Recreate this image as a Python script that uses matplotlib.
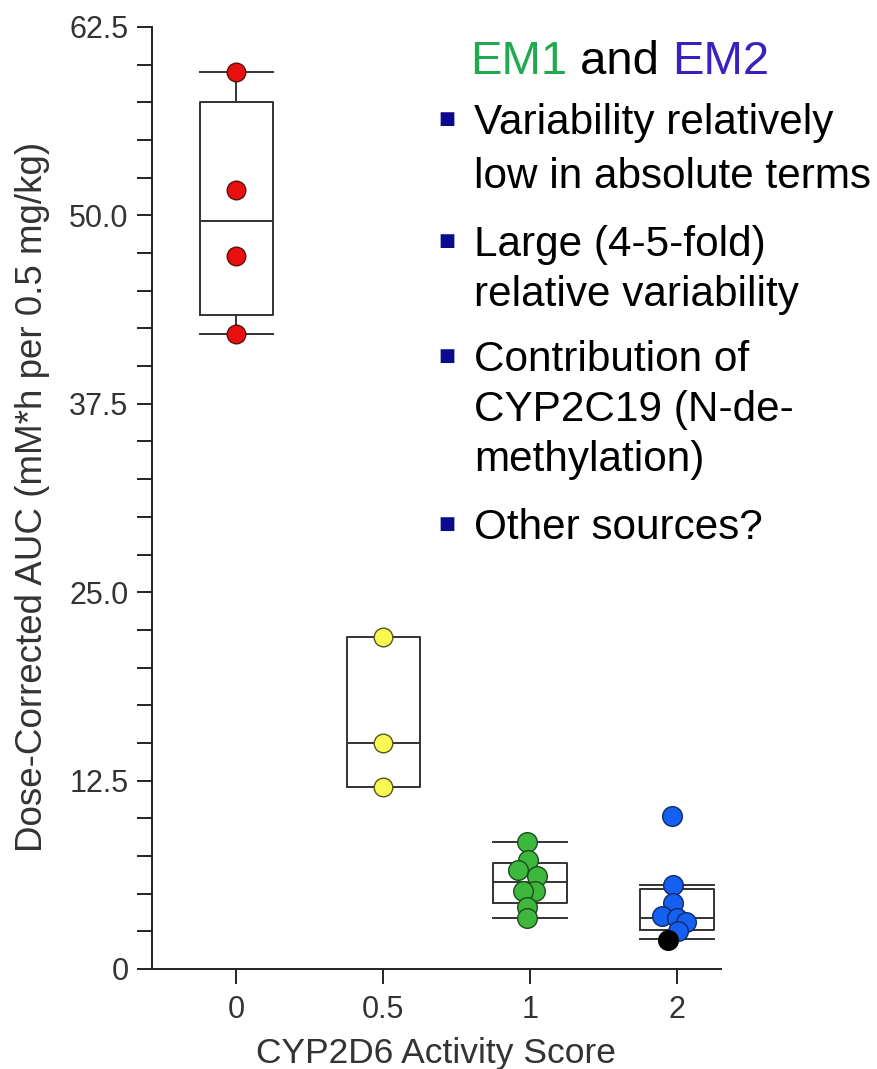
import matplotlib
matplotlib.use("Agg")
import matplotlib.pyplot as plt
from matplotlib.ticker import MultipleLocator

plt.rcParams['font.family'] = ['Liberation Sans', 'DejaVu Sans']

# ---------------- data ----------------
categories = ["0", "0.5", "1", "2"]
y_ticks = [0, 12.5, 25.0, 37.5, 50.0, 62.5]
y_ticklabels = ["0", "12.5", "25.0", "37.5", "50.0", "62.5"]

pm_values = [59.5, 51.7, 47.3, 42.1]                 # score 0 (red)
im_values = [22.0, 15.0, 12.1]                       # score 0.5 (yellow)
em1_values = [8.4, 7.2, 6.6, 6.2, 5.2, 5.2, 4.1, 3.4]  # score 1 (green)
em1_offsets = [-0.02, -0.015, -0.08, 0.045, 0.03, -0.05, -0.02, -0.02]
em2_values = [10.15, 5.6, 4.4, 3.5, 3.4, 3.1, 2.5]   # score 2 (blue)
em2_offsets = [-0.035, -0.03, -0.03, -0.10, 0.0, 0.06, 0.005]
em2_black_value = [1.95]
em2_black_offset = [-0.06]

# box statistics per group (whislo, q1, median, q3, whishi)
box_whislo = [42.1, 12.1, 3.4, 2.0]
box_q1 = [43.4, 12.1, 4.4, 2.6]
box_med = [49.6, 15.0, 5.8, 3.4]
box_q3 = [57.5, 22.0, 7.0, 5.3]
box_whishi = [59.5, 22.0, 8.4, 5.6]
show_caps = [True, False, True, True]

bullets = [
    ["Variability relatively", "low in absolute terms"],
    ["Large (4-5-fold)", "relative variability"],
    ["Contribution of", "CYP2C19 (N-de-", "methylation)"],
    ["Other sources?"],
]

# ---------------- figure ----------------
W, H = 877, 1069
fig = plt.figure(figsize=(W / 100, H / 100), dpi=100)
AX_L, AX_R, AX_T, AX_B = 152, 721, 27, 969
ax = fig.add_axes([AX_L / W, (H - AX_B) / H, (AX_R - AX_L) / W, (AX_B - AX_T) / H])

edge = "#333333"
for i in range(len(categories)):
    st = dict(whislo=box_whislo[i], q1=box_q1[i], med=box_med[i],
              q3=box_q3[i], whishi=box_whishi[i], fliers=[])
    ax.bxp([st], positions=[i], widths=0.5, showfliers=False,
           showcaps=show_caps[i], capwidths=0.5,
           boxprops=dict(color=edge, linewidth=1.4),
           medianprops=dict(color=edge, linewidth=1.4),
           whiskerprops=dict(color=edge, linewidth=1.4),
           capprops=dict(color=edge, linewidth=1.4),
           zorder=2)

ms = 200
ax.scatter([0] * len(pm_values), pm_values, s=ms * 0.9, color="#E8100F",
           edgecolor="#5a1010", linewidth=1.0, zorder=3)
ax.scatter([1] * len(im_values), im_values, s=ms * 0.9, color="#F8F850",
           edgecolor="#555522", linewidth=1.0, zorder=3)
ax.scatter([2 + o for o in em1_offsets], em1_values, s=ms, color="#3DB83D",
           edgecolor="#1d4d1d", linewidth=1.0, zorder=3)
ax.scatter([3 + o for o in em2_offsets], em2_values, s=ms, color="#1560F0",
           edgecolor="#102a66", linewidth=1.0, zorder=3)
ax.scatter([3 + o for o in em2_black_offset], em2_black_value, s=ms,
           color="#000000", edgecolor="#000000", linewidth=1.0, zorder=4)

ax.set_xlim(-0.575, 3.3)
ax.set_ylim(0, 62.5)
ax.set_xticks(range(len(categories)))
ax.set_xticklabels(categories)
ax.set_yticks(y_ticks)
ax.set_yticklabels(y_ticklabels)
ax.yaxis.set_minor_locator(MultipleLocator(2.5))
ax.tick_params(axis="both", which="both", direction="out", colors="#222222",
               labelcolor="#333333", labelsize=22, width=1.4)
ax.tick_params(axis="y", which="major", length=11, pad=6)
ax.tick_params(axis="y", which="minor", length=11)
ax.tick_params(axis="x", which="major", length=11, pad=8)
for s in ["top", "right"]:
    ax.spines[s].set_visible(False)
for s in ["left", "bottom"]:
    ax.spines[s].set_linewidth(1.4)
    ax.spines[s].set_color("#222222")

ax.set_xlabel("CYP2D6 Activity Score", fontsize=25.5, color="#333333", labelpad=8)
ax.set_ylabel("Dose-Corrected AUC (mM*h per 0.5 mg/kg)", fontsize=26.5,
              color="#333333")
ax.yaxis.set_label_coords((50 - AX_L) / (AX_R - AX_L), (AX_B - 497) / (AX_B - AX_T))

# ---------------- annotation text ----------------
fs = 30.4
ft = 34
t1 = fig.text(470 / W, 1 - 62 / H, "EM1", color="#1FAA50", fontsize=ft, va="center")
fig.canvas.draw()
r = fig.canvas.get_renderer()
bb = t1.get_window_extent(r)
t2 = fig.text((bb.x1) / W, 1 - 62 / H, " and ", color="black", fontsize=ft, va="center")
bb2 = t2.get_window_extent(r)
fig.text((bb2.x1) / W, 1 - 62 / H, "EM2", color="#3A20C0", fontsize=ft, va="center")

line_y = [[123, 177], [245, 295], [360, 410, 460], [528]]
for item, ys in zip(bullets, line_y):
    fig.text(447 / W, 1 - (ys[0] - 4) / H, "\u25A0", color="#0A0A90", fontsize=13,
             ha="center", va="center", family="DejaVu Sans")
    for line, y in zip(item, ys):
        fig.text(474 / W, 1 - y / H, line, color="black", fontsize=fs, va="center")

fig.savefig("out.png", dpi=100)
